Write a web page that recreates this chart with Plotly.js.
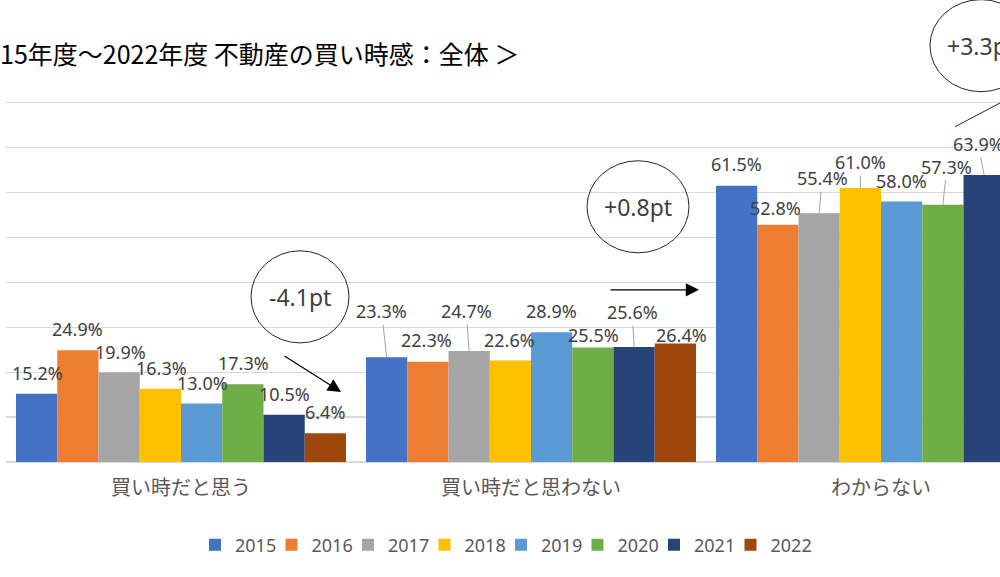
<!DOCTYPE html>
<html><head><meta charset="utf-8">
<script src="https://cdn.plot.ly/plotly-3.0.1.min.js"></script>
<style>html,body{margin:0;padding:0;background:#fff}#chart{width:1000px;height:577px}</style>
</head><body><div id="chart"></div>
<script>
// ---- data ----
const categories = ['買い時だと思う', '買い時だと思わない', 'わからない'];
const years = ['2015', '2016', '2017', '2018', '2019', '2020', '2021', '2022'];
const v2015 = [15.2, 23.3, 61.5];
const v2016 = [24.9, 22.3, 52.8];
const v2017 = [19.9, 24.7, 55.4];
const v2018 = [16.3, 22.6, 61.0];
const v2019 = [13.0, 28.9, 58.0];
const v2020 = [17.3, 25.5, 57.3];
const v2021 = [10.5, 25.6, 63.9];
const v2022 = [6.4, 26.4, 67.2];
const changeLabels = ['-4.1pt', '+0.8pt', '+3.3pt'];
const titleText = '15年度～2022年度 不動産の買い時感：全体 ＞';

// ---- styles ----
const seriesValues = [v2015, v2016, v2017, v2018, v2019, v2020, v2021, v2022];
const colors = ['#4472C4', '#ED7D31', '#A5A5A5', '#FFC000', '#5B9BD5', '#70AD47', '#264478', '#9E480E'];
// label offsets (px) from bar top centre, per series, per category
const labelDx = [
  [1, -5, 0], [0, -1, -2], [1, -3, 3], [1, -1, 0],
  [1, 0, 0], [1, 1, 4], [0, -2, -6], [0, 6, 0]
];
const labelDy = [
  [-21, -46, -22], [-21, -22, -17], [-21, -40, -35], [-21, -21, -26],
  [-21, -21, -21], [-21, -12, -38], [-21, -35, -31], [-21, -8, -21]
];
const leader = [
  [0, 1, 0], [0, 0, 0], [0, 1, 1], [0, 0, 1],
  [0, 0, 0], [0, 0, 1], [0, 1, 1], [0, 0, 0]
];

const W = 1000, H = 577;
const yMax = 80.6;
const ML = 6, MR = 0, MT = 100.3, MB = 115;
const plotW = W - ML - MR, plotH = H - MT - MB;
const catPx = 350;
const bargap = 20 / 350;
const barW = (1 - bargap) / years.length;
const px2x = p => (p - ML) / plotW;
const py2y = p => (H - MB - p) / plotH;

const latin = 'Noto Sans, Open Sans, sans-serif';
const cjk = 'Noto Sans CJK JP, Noto Sans, sans-serif';

const traces = years.map((yr, i) => ({
  type: 'bar', name: yr, x: categories, y: seriesValues[i],
  marker: {color: colors[i], line: {width: 0}},
  legendwidth: i === years.length - 1 ? 45 : 31.5,
  hoverinfo: 'skip'
}));

const annotations = [];
seriesValues.forEach((vals, i) => {
  vals.forEach((v, c) => {
    const hasLeader = leader[i][c] === 1;
    annotations.push({
      x: c + (i - (years.length - 1) / 2) * barW, y: v, xref: 'x', yref: 'y',
      text: v.toFixed(1) + '%', showarrow: true, ax: labelDx[i][c], ay: labelDy[i][c],
      arrowhead: 0, arrowwidth: hasLeader ? 1 : 0.1, standoff: 0,
      arrowcolor: hasLeader ? '#A6A6A6' : 'rgba(0,0,0,0)',
      font: {family: latin, size: 18, color: '#404040'}
    });
  });
});

// change bubbles
const bubbles = [
  {cx: 300, cy: 297, rx: 49, ry: 46},
  {cx: 638, cy: 207, rx: 51, ry: 46},
  {cx: 981, cy: 46, rx: 51, ry: 46}
];
const shapes = bubbles.map(b => ({
  type: 'circle', xref: 'paper', yref: 'paper',
  x0: px2x(b.cx - b.rx), x1: px2x(b.cx + b.rx),
  y0: py2y(b.cy + b.ry), y1: py2y(b.cy - b.ry),
  line: {color: '#262626', width: 1}, fillcolor: 'rgba(0,0,0,0)'
}));
bubbles.forEach((b, k) => annotations.push({
  xref: 'paper', yref: 'paper', x: px2x(b.cx), y: py2y(b.cy),
  text: changeLabels[k], showarrow: false, xanchor: 'center', yanchor: 'middle',
  font: {family: latin, size: 23, color: '#404040'}
}));
// arrows
annotations.push({
  xref: 'paper', yref: 'paper', x: px2x(341), y: py2y(392), ax: -58, ay: -37,
  text: '', showarrow: true, arrowhead: 2, arrowsize: 2.2, arrowwidth: 1.2, arrowcolor: '#000'
});
annotations.push({
  xref: 'paper', yref: 'paper', x: px2x(699), y: py2y(290), ax: -90, ay: 0,
  text: '', showarrow: true, arrowhead: 2, arrowsize: 2.2, arrowwidth: 1.2, arrowcolor: '#000'
});
shapes.push({
  type: 'line', xref: 'paper', yref: 'paper',
  x0: px2x(955), y0: py2y(127), x1: px2x(1012), y1: py2y(97),
  line: {color: '#262626', width: 1}
});

const layout = {
  width: W, height: H,
  margin: {l: ML, r: MR, t: MT, b: MB, pad: 0},
  paper_bgcolor: '#fff', plot_bgcolor: '#fff',
  font: {family: cjk, color: '#595959'},
  title: {
    text: titleText, x: 0, xref: 'container', xanchor: 'left',
    y: 1 - 55 / H, yref: 'container', yanchor: 'middle',
    font: {family: cjk, size: 25, color: '#000'}
  },
  barmode: 'group', bargap: bargap, bargroupgap: 0,
  xaxis: {
    type: 'category', range: [-0.5, -0.5 + plotW / catPx],
    showgrid: false, showline: false, ticks: '', zeroline: false,
    tickfont: {family: cjk, size: 20, color: '#595959'}, ticklabelstandoff: 12
  },
  yaxis: {
    range: [0, yMax], dtick: 10, tick0: 0, showticklabels: false,
    gridcolor: '#D9D9D9', gridwidth: 1.3,
    zeroline: true, zerolinecolor: '#D9D9D9', zerolinewidth: 1.3, showline: false
  },
  showlegend: true,
  legend: {
    orientation: 'h', x: px2x(195), xanchor: 'left', y: py2y(545), yanchor: 'middle',
    font: {family: latin, size: 18, color: '#595959'},
    entrywidthmode: 'pixels', traceorder: 'normal',
    bgcolor: 'rgba(0,0,0,0)', borderwidth: 0
  },
  hovermode: false,
  annotations: annotations,
  shapes: shapes
};

Plotly.newPlot('chart', traces, layout, {displayModeBar: false, staticPlot: true});
</script>
</body></html>
